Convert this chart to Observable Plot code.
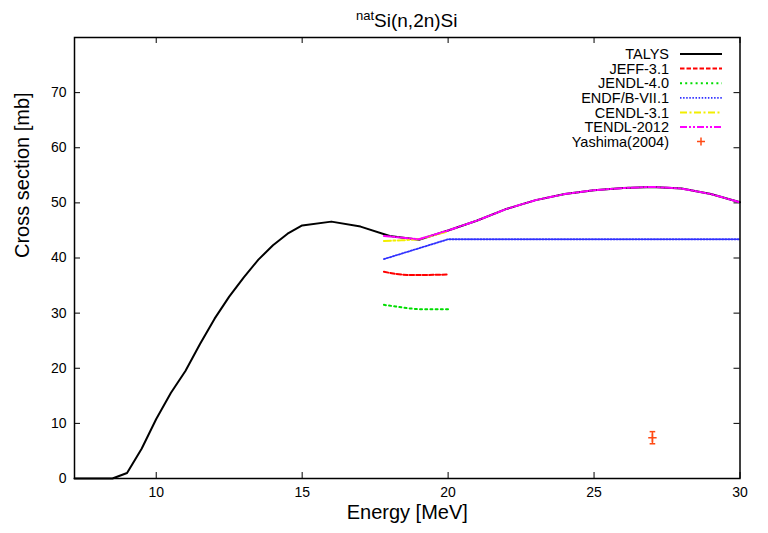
<!DOCTYPE html>
<html><head><meta charset="utf-8">
<script src="https://cdn.jsdelivr.net/npm/d3@7"></script>
<script src="https://cdn.jsdelivr.net/npm/@observablehq/plot@0.6"></script>
<style>body{margin:0;background:#fff}#chart{width:768px;height:533px}</style>
</head><body><div id="chart"></div>
<script>
// ---- data ----
const xTicks = [10, 15, 20, 25, 30];
const yTicks = [0, 10, 20, 30, 40, 50, 60, 70];
const xDomain = [7.2, 30];
const yDomain = [0, 80];

const talysE  = [7.2, 8.5, 9, 9.5, 10, 10.5, 11, 11.5, 12, 12.5, 13, 13.5, 14, 14.5, 15, 16, 17, 18, 19, 20, 21, 22, 23, 24, 25, 26, 27, 28, 29, 30];
const talysXS = [0, 0, 1.0, 5.4, 10.8, 15.5, 19.5, 24.4, 29.0, 33.0, 36.5, 39.7, 42.3, 44.4, 45.9, 46.6, 45.7, 44.0, 43.3, 45.0, 46.8, 48.9, 50.5, 51.6, 52.3, 52.7, 52.9, 52.6, 51.6, 50.1];

const jeffE  = [17.8, 18.2, 18.6, 19, 19.5, 20];
const jeffXS = [37.5, 37.1, 36.9, 36.9, 36.95, 37.0];

const jendlE  = [17.8, 18.2, 18.6, 19, 20];
const jendlXS = [31.5, 31.2, 30.9, 30.7, 30.7];

const endfE  = [17.8, 20, 30];
const endfXS = [39.8, 43.4, 43.4];

const cendlE  = [17.8, 18.4, 19, 20];
const cendlXS = [43.1, 43.2, 43.4, 44.8];

const tendlE  = [17.8, 18, 19, 20, 21, 22, 23, 24, 25, 26, 27, 28, 29, 30];
const tendlXS = [44.0, 43.9, 43.4, 45.0, 46.8, 48.9, 50.5, 51.6, 52.3, 52.7, 52.9, 52.6, 51.6, 50.1];

const yashimaE   = [27.0];
const yashimaXS  = [7.4];
const yashimaErr = [1.1];

const legendLabels = ["TALYS", "JEFF-3.1", "JENDL-4.0", "ENDF/B-VII.1", "CENDL-3.1", "TENDL-2012", "Yashima(2004)"];

// ---- build tables ----
const toRows = (E, XS) => E.map((e, i) => ({e, xs: XS[i]}));
const talys = toRows(talysE, talysXS);
const jeff = toRows(jeffE, jeffXS);
const jendl = toRows(jendlE, jendlXS);
const endf = toRows(endfE, endfXS);
const cendl = toRows(cendlE, cendlXS);
const tendl = toRows(tendlE, tendlXS);
const yashima = yashimaE.map((e, i) => ({e, xs: yashimaXS[i], err: yashimaErr[i]}));

// ---- styles ----
const styles = [
  {stroke: "#000000", dash: null, w: 2},
  {stroke: "#ff0000", dash: "4.5,2", w: 2},
  {stroke: "#00dd00", dash: "2,3.2", w: 2},
  {stroke: "#3030ff", dash: "1.5,1.6", w: 1.8},
  {stroke: "#f2ee00", dash: "7,2.5,2,2.5", w: 2},
  {stroke: "#ff00ff", dash: "7,2,2,2,2,2", w: 2}
];
const expColor = "#ff4a14";

const W = 768, H = 533, mL = 74, mR = 28.5, mT = 37, mB = 55;
const frameW = W - mL - mR, frameH = H - mT - mB, tk = 6;
const font = "'Liberation Sans', Arial, Helvetica, sans-serif";

const capSym = {draw(ctx, size) { const r = Math.sqrt(size / Math.PI); ctx.moveTo(-r, 0); ctx.lineTo(r, 0); }};
const plusSym = {draw(ctx, size) { const r = Math.sqrt(size / Math.PI); ctx.moveTo(-r, 0); ctx.lineTo(r, 0); ctx.moveTo(0, -r); ctx.lineTo(0, r); }};

const seriesData = [talys, jeff, jendl, endf, cendl, tendl];

const chart = Plot.plot({
  width: W, height: H,
  marginLeft: mL, marginRight: mR, marginTop: mT, marginBottom: mB,
  style: {fontFamily: font, background: "white", color: "black"},
  x: {domain: xDomain},
  y: {domain: yDomain},
  marks: [
    Plot.axisX({ticks: xTicks, tickSize: 0, tickPadding: 9, fontSize: 14, label: null}),
    Plot.axisY({ticks: yTicks, tickSize: 0, tickPadding: 8, fontSize: 14, label: null}),
    Plot.tickX(xTicks, {x: d => d, insetTop: frameH - tk, stroke: "black"}),
    Plot.tickX(xTicks, {x: d => d, insetBottom: frameH - tk, stroke: "black"}),
    Plot.tickY(yTicks, {y: d => d, insetRight: frameW - tk, stroke: "black"}),
    Plot.tickY(yTicks, {y: d => d, insetLeft: frameW - tk, stroke: "black"}),
    ...seriesData.map((d, i) => Plot.line(d, {
      x: "e", y: "xs", stroke: styles[i].stroke, strokeWidth: styles[i].w,
      strokeDasharray: styles[i].dash, strokeLinejoin: "round"
    })),
    Plot.ruleX(yashima, {x: "e", y1: d => d.xs - d.err, y2: d => d.xs + d.err, stroke: expColor, strokeWidth: 1.5}),
    Plot.dot(yashima, {x: "e", y: d => d.xs - d.err, symbol: capSym, r: 2.8, fill: "none", stroke: expColor, strokeWidth: 1.5}),
    Plot.dot(yashima, {x: "e", y: d => d.xs + d.err, symbol: capSym, r: 2.8, fill: "none", stroke: expColor, strokeWidth: 1.5}),
    Plot.dot(yashima, {x: "e", y: "xs", symbol: plusSym, r: 4.2, fill: "none", stroke: expColor, strokeWidth: 1.5}),
    Plot.frame({stroke: "black", strokeWidth: 1.5}),
    Plot.text(["Energy [MeV]"], {text: d => d, frameAnchor: "bottom", dy: 40, fontSize: 20}),
    Plot.text(["Cross section [mb]"], {text: d => d, frameAnchor: "left", dx: -52, rotate: -90, fontSize: 20})
  ]
});
document.getElementById("chart").appendChild(chart);

// ---- title and legend ----
const svg = d3.select(chart);
const title = svg.append("text")
  .attr("x", mL + frameW / 2).attr("y", 27)
  .attr("text-anchor", "middle").attr("font-family", font).attr("font-size", 19).attr("fill", "black");
title.append("tspan").attr("font-size", 13).attr("dy", -7).text("nat");
title.append("tspan").attr("dy", 7).text("Si(n,2n)Si");

const legX = 669, lx1 = 680, lx2 = 722, ly0 = 54, lstep = 14.6;
const leg = svg.append("g").attr("font-family", font).attr("font-size", 14.5);
legendLabels.forEach((lab, i) => {
  const y = ly0 + i * lstep;
  leg.append("text").attr("x", legX).attr("y", y).attr("dy", "0.36em")
    .attr("text-anchor", "end").attr("fill", "black").text(lab);
  if (i < styles.length) {
    leg.append("line").attr("x1", lx1).attr("x2", lx2).attr("y1", y).attr("y2", y)
      .attr("stroke", styles[i].stroke).attr("stroke-width", styles[i].w)
      .attr("stroke-dasharray", styles[i].dash);
  } else {
    const cx = (lx1 + lx2) / 2;
    leg.append("path").attr("d", `M${cx - 4},${y}H${cx + 4}M${cx},${y - 4}V${y + 4}`)
      .attr("stroke", expColor).attr("stroke-width", 1.5).attr("fill", "none");
  }
});
</script>
</body></html>
